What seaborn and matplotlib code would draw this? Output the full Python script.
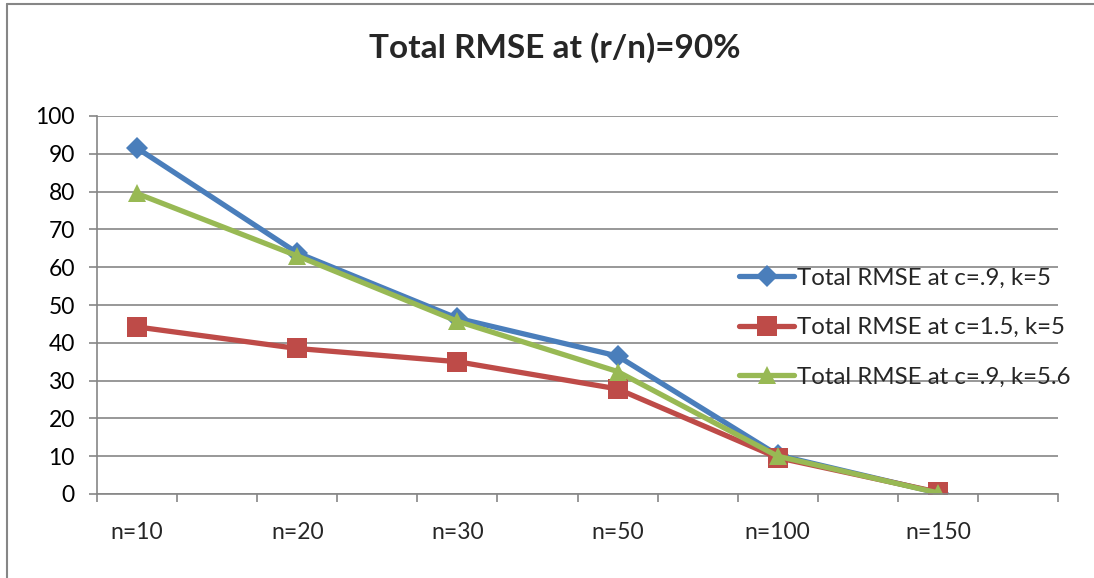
import numpy as np
import pandas as pd
import matplotlib
matplotlib.use("Agg")
import matplotlib.pyplot as plt
from matplotlib.lines import Line2D
import seaborn as sns

# Data
categories = ["n=10", "n=20", "n=30", "n=50", "n=100", "n=150"]
series_names = ["Total RMSE at c=.9, k=5", "Total RMSE at c=1.5, k=5", "Total RMSE at c=.9, k=5.6"]
rmse_c09_k5 = [91.5, 63.8, 46.5, 36.5, 10.3, 0.3]
rmse_c15_k5 = [44.2, 38.5, 35.0, 27.8, 9.6, 0.5]
rmse_c09_k56 = [79.5, 63.0, 45.7, 32.4, 10.0, 0.3]

colors = ["#4A7EBB", "#BE4B48", "#98B954"]
markers = ["D", "s", "^"]
marker_sizes = [11, 14, 13]

# Excel draws the categories on every other slot of a 12-slot axis
n_slots = 2 * len(categories)
slot_of = {c: 2 * i for i, c in enumerate(categories)}

frames = []
for name, vals in zip(series_names, [rmse_c09_k5, rmse_c15_k5, rmse_c09_k56]):
    frames.append(pd.DataFrame({"category": categories, "rmse": vals, "series": name}))
df = pd.concat(frames, ignore_index=True)
df["slot"] = df["category"].map(slot_of)

sns.set_theme(style="white")
plt.rcParams["font.family"] = ["Lato", "DejaVu Sans"]

fig = plt.figure(figsize=(10.94, 5.78), dpi=100)
ax = fig.add_axes([97 / 1094, 1 - 494 / 578, 961 / 1094, 378 / 578])

grid_col = "#868686"
ax.set_ylim(0, 100)
ax.set_xlim(-0.5, n_slots - 0.5)
ax.set_yticks(np.arange(0, 101, 10))
ax.yaxis.grid(True, color=grid_col, linewidth=1.2)
ax.set_axisbelow(True)

for name, col, mk, ms in zip(series_names, colors, markers, marker_sizes):
    sub = df[df["series"] == name]
    sns.lineplot(data=sub, x="slot", y="rmse", ax=ax, color=col, linewidth=3.8,
                 marker=mk, markersize=ms, markeredgewidth=0, label=name, legend=False)

# axis styling
for s in ["top", "right"]:
    ax.spines[s].set_visible(False)
for s in ["left", "bottom"]:
    ax.spines[s].set_color(grid_col)
    ax.spines[s].set_linewidth(1.2)

ax.set_xticks(np.arange(-0.5, n_slots, 1.0))
ax.set_xticklabels([])
ax.set_xticks([slot_of[c] for c in categories], minor=True)
ax.set_xticklabels(categories, minor=True, fontsize=16.5)
ax.tick_params(axis="x", which="major", direction="out", length=6, color=grid_col, width=1.2, bottom=True)
ax.tick_params(axis="x", which="minor", length=0, pad=20)
ax.tick_params(axis="y", direction="out", length=6, color=grid_col, width=1.2, left=True, labelsize=16.5, pad=10)
for lab in ax.get_yticklabels():
    lab.set_color("black")
ax.set_xlabel("")
ax.set_ylabel("")

handles = [Line2D([], [], color=c, linewidth=3.8, marker=m, markersize=s, markeredgewidth=0)
           for c, m, s in zip(colors, markers, marker_sizes)]
ax.legend(handles, series_names, loc="center left", bbox_to_anchor=(0.668, 0.44),
          frameon=False, fontsize=17.3, handlelength=2.3, handletextpad=0.12,
          labelspacing=1.18, borderpad=0, borderaxespad=0)

fig.text(555 / 1094, 1 - 48 / 578, "Total RMSE at (r/n)=90%", ha="center", va="center",
         fontsize=24, fontweight="bold")

# outer chart frame (only the top and left edges are visible in the reference)
fig.add_artist(Line2D([7 / 1094, 7 / 1094], [0, 1 - 4 / 578], transform=fig.transFigure,
                      color="#868686", linewidth=1.5))
fig.add_artist(Line2D([7 / 1094, 1], [1 - 4 / 578, 1 - 4 / 578], transform=fig.transFigure,
                      color="#868686", linewidth=1.5))

fig.savefig("out.png", dpi=100, facecolor="white")
